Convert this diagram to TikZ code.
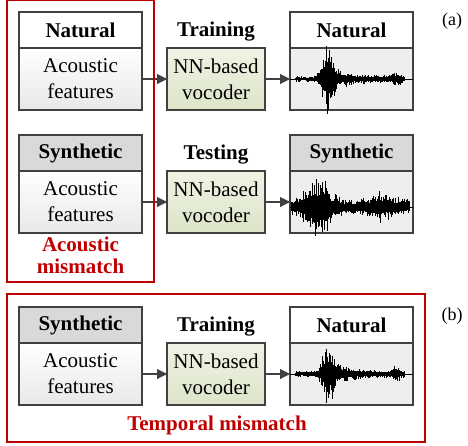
\documentclass[tikz,border=0pt]{standalone}
\usepackage{fontspec}
\setmainfont{Liberation Serif}
\usetikzlibrary{arrows.meta,positioning,shadings}

\definecolor{boxline}{HTML}{404040}
\definecolor{mismatch}{HTML}{C00000}
\definecolor{synhead}{HTML}{D9D9D9}
\definecolor{wavebg}{HTML}{EEEEEE}
\definecolor{vocotop}{HTML}{EFF3E4}
\definecolor{vocobot}{HTML}{DCE4C8}
\newcommand{\figfont}{\fontsize{21}{26}\selectfont}

\tikzset{%
	figbox/.style={draw=boxline,line width=1.1pt,inner sep=0pt,outer sep=0pt,font=\figfont,align=center},
	head/.style={figbox,minimum width=123pt,minimum height=36pt,font=\figfont\bfseries},
	feat/.style={figbox,minimum width=123pt,minimum height=62pt,top color=white,bottom color=black!9},
	voco/.style={figbox,minimum width=98pt,minimum height=62pt,top color=vocotop,bottom color=vocobot},
	wave/.style={figbox,minimum width=123pt,minimum height=62pt,fill=wavebg},
	flow/.style={draw=boxline,line width=1.1pt,-{Triangle[length=10pt,width=10pt]}},
	stage/.style={font=\figfont\bfseries,anchor=base},
	mismatchbox/.style={draw=mismatch,line width=1.2pt}
}

% waveform inside a node: #1 node, #2 envelope of \x, #3 baseline shift
\newcommand{\drawwave}[3]{%
	\draw[line width=0.8pt] ([yshift=#3]#1.west) -- ([yshift=#3]#1.east);
	\begin{scope}[shift={([yshift=#3]#1.west)}]
		\foreach \x in {1,1.5,...,121}{
			\pgfmathsetmacro{\env}{#2}
			\pgfmathsetmacro{\up}{\env*(0.3+0.7*rnd*rnd)}
			\pgfmathsetmacro{\dn}{\env*(0.3+0.7*rnd*rnd)}
			\draw[line width=0.55pt] (\x,-\up) -- (\x,\dn);
		}
	\end{scope}
}

\begin{document}
\begin{tikzpicture}[x=1pt,y=-1pt]
	\pgfmathsetseed{7}
	\useasboundingbox (0,0) rectangle (468,445);

	% (a) training
	\node[head,fill=white] (head1) at (80.5,30) {Natural};
	\node[feat,below=0pt of head1] (feat1) {Acoustic\\features};
	\node[voco,right=25pt of feat1] (voc1) {NN-based\\vocoder};
	\node[wave,right=25pt of voc1] (wbody1) {};
	\node[head,fill=white,above=0pt of wbody1] (whead1) {Natural};
	\node[stage] (train1) at ([yshift=12pt]voc1.north) {Training};
	\draw[flow] (feat1) -- (voc1);
	\draw[flow] (voc1) -- (wbody1);
	\drawwave{wbody1}{(\x>5)*(\x<115)*(3.5+26*exp(-((\x-37)^2)/45)+13*(\x>35)*exp(-(\x-35)/22)+5*exp(-((\x-106)^2)/35))}{0pt}

	% (a) testing
	\node[head,fill=synhead] (head2) at (80.5,153) {Synthetic};
	\node[feat,below=0pt of head2] (feat2) {Acoustic\\features};
	\node[voco,right=25pt of feat2] (voc2) {NN-based\\vocoder};
	\node[wave,right=25pt of voc2] (wbody2) {};
	\node[head,fill=synhead,above=0pt of wbody2] (whead2) {Synthetic};
	\node[stage] (test2) at ([yshift=12pt]voc2.north) {Testing};
	\draw[flow] (feat2) -- (voc2);
	\draw[flow] (voc2) -- (wbody2);
	\drawwave{wbody2}{(\x<120)*(9+26*exp(-((\x-28)^2)/180)+8*exp(-((\x-92)^2)/170))}{-5pt}

	\draw[mismatchbox] (7,0) rectangle (154,282);
	\node[font=\fontsize{21}{22}\selectfont\bfseries,text=mismatch,align=center] (acmis) at (80.5,255) {Acoustic\\mismatch};
	\node[font=\fontsize{18}{20}\selectfont,anchor=base] (lbla) at (452,25) {(a)};

	% (b) training
	\node[head,fill=synhead] (head3) at (80.5,325) {Synthetic};
	\node[feat,below=0pt of head3] (feat3) {Acoustic\\features};
	\node[voco,right=25pt of feat3] (voc3) {NN-based\\vocoder};
	\node[wave,right=25pt of voc3] (wbody3) {};
	\node[head,fill=white,above=0pt of wbody3] (whead3) {Natural};
	\node[stage] (train3) at ([yshift=12pt]voc3.north) {Training};
	\draw[flow] (feat3) -- (voc3);
	\draw[flow] (voc3) -- (wbody3);
	\drawwave{wbody3}{(\x>5)*(\x<115)*(3.5+26*exp(-((\x-37)^2)/45)+13*(\x>35)*exp(-(\x-35)/22)+5*exp(-((\x-106)^2)/35))}{0pt}

	\draw[mismatchbox] (7,294) rectangle (425,442);
	\node[font=\figfont\bfseries,text=mismatch,anchor=base] (tmis) at (217,430) {Temporal mismatch};
	\node[font=\fontsize{18}{20}\selectfont,anchor=base] (lblb) at (452,320) {(b)};
\end{tikzpicture}
\end{document}
